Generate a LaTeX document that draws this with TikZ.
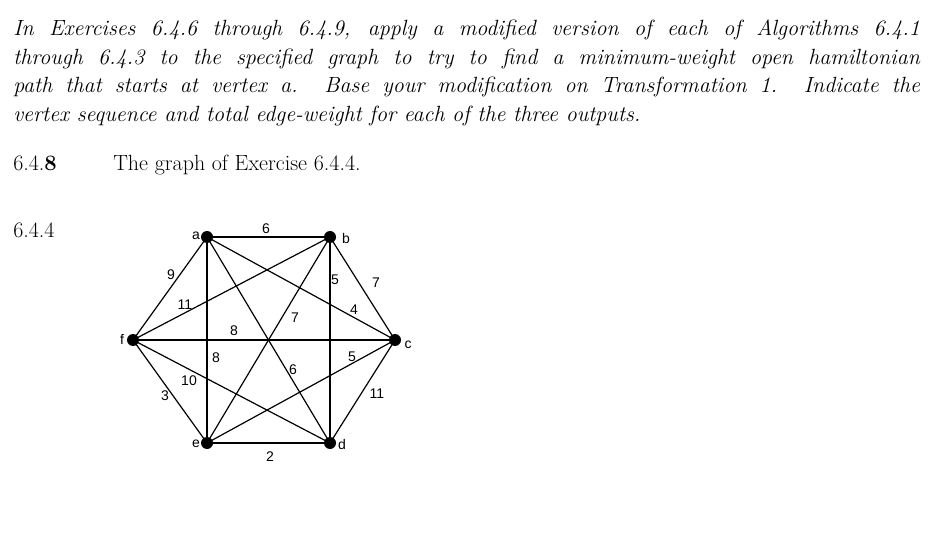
\documentclass[tikz,border=0pt]{standalone}
\usepackage{fontspec}
\newfontfamily\gsans{Liberation Sans}
\begin{document}
\begin{tikzpicture}[x=0.75pt,y=-0.75pt,
  vtx/.style={circle,fill=black,inner sep=0pt,minimum size=9pt},
  edge/.style={line width=0.9pt},
  wl/.style={font=\gsans\fontsize{10.5}{12}\selectfont,inner sep=0pt},
  vl/.style={font=\gsans\fontsize{10.5}{12}\selectfont,inner sep=0pt},
  txt/.style={anchor=base west,inner sep=0pt,font=\fontsize{16.5}{20}\selectfont}]
\useasboundingbox (0,0) rectangle (945,541);
\node[txt] (l1) at (13,36) {\makebox[680pt][s]{\itshape In Exercises 6.4.6 through 6.4.9, apply a modified version of each of Algorithms 6.4.1}};
\node[txt] (l2) at (13,64.5) {\makebox[680pt][s]{\itshape through 6.4.3 to the specified graph to try to find a minimum-weight open hamiltonian}};
\node[txt] (l3) at (13,93) {\makebox[680pt][s]{\itshape path that starts at vertex a. Base your modification on Transformation 1. Indicate the}};
\node[txt] (l4) at (13,121.5) {\itshape vertex sequence and total edge-weight for each of the three outputs.};
\node[txt] (h1) at (13,171) {6.4.\textbf{8}};
\node[txt] (h2) at (113,171) {The graph of Exercise 6.4.4.};
\node[txt] (h3) at (13,238) {6.4.4};
\node[vtx] (a) at (207,237) {};
\node[vtx] (b) at (330,237) {};
\node[vtx] (c) at (395,340) {};
\node[vtx] (d) at (330,443) {};
\node[vtx] (e) at (207,443) {};
\node[vtx] (f) at (133,340) {};
\node[vl] (la) at (196,236) {a};
\node[vl] (lb) at (346,238) {b};
\node[vl] (lc) at (408,345) {c};
\node[vl] (ld) at (342,444) {d};
\node[vl] (le) at (196,444) {e};
\node[vl] (lf) at (122,339) {f};
\foreach \u/\v in {a/b,b/c,c/d,d/e,e/f,f/a,a/e,b/d,f/c,a/c,a/d,b/f,b/e,f/d,e/c}
  \draw[edge] (\u.center) -- (\v.center);
\node[wl] (w1) at (266,229) {6};
\node[wl] (w2) at (376,283) {7};
\node[wl] (w3) at (377,394) {11};
\node[wl] (w4) at (270,457) {2};
\node[wl] (w5) at (165,396) {3};
\node[wl] (w6) at (171,275) {9};
\node[wl] (w7) at (185,305) {11};
\node[wl] (w8) at (234,331) {8};
\node[wl] (w9) at (216,358) {8};
\node[wl] (w10) at (335,280) {5};
\node[wl] (w11) at (354,310) {4};
\node[wl] (w12) at (295,318) {7};
\node[wl] (w13) at (293,370) {6};
\node[wl] (w14) at (352,357) {5};
\node[wl] (w15) at (189,381) {10};
\end{tikzpicture}
\end{document}
